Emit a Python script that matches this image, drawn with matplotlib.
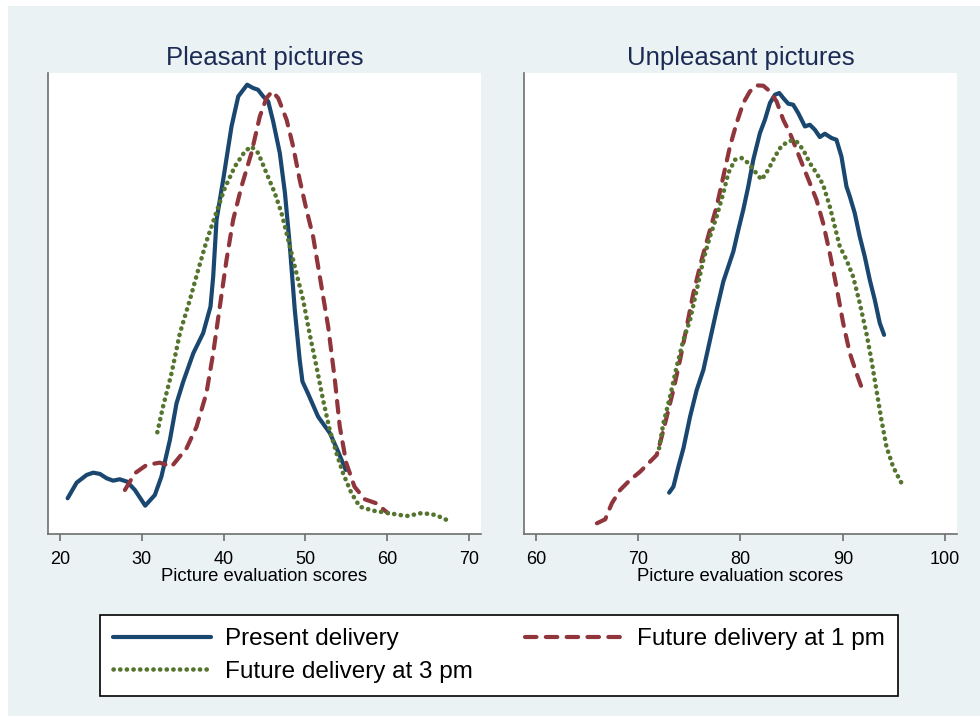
import matplotlib
matplotlib.use("Agg")
import matplotlib.pyplot as plt
from matplotlib.patches import Rectangle

plt.rcParams['font.family'] = ['Liberation Sans', 'DejaVu Sans']

# kernel density curves (arbitrary density units)
pl_present_x = [20.94, 22.04, 23.26, 24.07, 24.89, 25.7, 26.5, 27.3, 28.2, 29.16, 30.42, 31.6, 32.4, 33.44,
                34.25, 35.07, 36.3, 37.5, 38.4, 38.73, 39.14, 39.95, 40.97, 41.79, 42.88, 43.6, 44.2, 44.84,
                45.45, 46.06, 46.87, 47.5, 48.1, 48.7, 49.3, 49.64, 50.3, 51.55, 53.0, 54.0, 54.93]
pl_present_y = [3.57, 5.13, 5.9, 6.13, 6.0, 5.57, 5.33, 5.47, 5.23, 4.4, 2.83, 3.9, 5.73, 9.4,
                13.07, 15.23, 18.07, 20.07, 22.73, 25.73, 31.4, 35.4, 40.73, 43.73, 44.9, 44.57, 44.4, 43.73,
                43.23, 41.23, 38.07, 34.07, 28.73, 22.4, 17.4, 15.23, 14.07, 11.73, 10.07, 8.23, 6.4]

pl_1pm_x = [27.94, 29.16, 30.59, 32.2, 33.64, 35.47, 36.7, 37.9, 38.73, 39.54, 40.36, 41.17, 42.19, 43.4,
            44.43, 45.24, 45.94, 46.67, 47.7, 48.5, 49.3, 50.13, 50.94, 51.76, 52.78, 53.6, 54.2, 55.0,
            56.0, 57.25, 58.66, 60.1]
pl_1pm_y = [4.4, 6.07, 6.9, 7.13, 6.73, 8.57, 10.73, 14.07, 18.07, 22.73, 27.4, 31.4, 34.73, 38.07,
            41.73, 43.57, 44.23, 43.57, 41.4, 38.73, 35.4, 32.4, 29.73, 25.73, 20.73, 15.4, 10.73, 7.07,
            4.73, 3.47, 3.07, 2.07]

pl_3pm_x = [31.9, 32.6, 33.64, 34.66, 35.88, 36.9, 37.9, 38.94, 40.15, 41.38, 42.6, 43.4, 44.23, 45.24,
            46.26, 47.08, 47.9, 48.7, 49.72, 50.5, 51.35, 52.16, 52.97, 53.8, 54.6, 55.63, 56.65, 58.27,
            59.9, 61.53, 62.55, 63.97, 65.4, 66.6, 67.84]
pl_3pm_y = [10.17, 12.73, 16.07, 20.07, 23.4, 26.4, 29.23, 31.73, 34.57, 36.73, 38.23, 38.73, 38.07, 36.07,
            34.07, 32.07, 29.4, 26.73, 23.4, 20.07, 16.73, 13.4, 10.4, 8.07, 6.07, 4.07, 2.73, 2.33,
            2.13, 1.9, 1.8, 2.07, 2.0, 1.67, 1.17]

un_present_x = [73.02, 73.44, 73.93, 74.42, 75.07, 75.72, 76.37, 77.02, 77.67, 78.32, 79.3, 79.79, 80.27,
                80.76, 81.25, 81.9, 82.39, 82.88, 83.37, 83.79, 84.18, 84.67, 85.15, 85.64, 86.3, 86.78,
                87.27, 87.76, 88.25, 88.9, 89.38, 89.87, 90.36, 90.69, 91.17, 91.66, 92.15, 92.64, 93.13,
                93.62, 94.04]
un_present_y = [4.13, 4.73, 6.73, 8.57, 11.73, 14.4, 16.4, 19.4, 22.4, 25.23, 28.23, 30.4, 32.4,
                34.73, 37.4, 40.07, 41.4, 43.07, 43.9, 44.07, 43.57, 43.0, 42.9, 42.07, 40.73, 40.9,
                40.4, 39.67, 40.0, 39.57, 39.4, 37.73, 34.73, 33.73, 32.07, 29.73, 27.73, 25.4, 23.4,
                21.07, 19.9]

un_1pm_x = [65.96, 66.77, 67.42, 68.23, 69.2, 70.19, 71.0, 71.81, 72.3, 72.79, 73.44, 74.09, 74.74, 75.39,
            76.2, 77.02, 77.67, 78.32, 78.97, 79.62, 80.27, 80.92, 81.57, 82.23, 82.88, 83.53, 84.18,
            84.83, 85.48, 86.13, 86.78, 87.43, 88.08, 88.73, 89.38, 90.04, 90.69, 91.34, 91.99]
un_1pm_y = [1.07, 1.47, 3.07, 4.4, 5.4, 6.23, 7.07, 7.9, 9.73, 11.73, 14.4, 17.4, 20.73, 24.07,
            27.4, 30.4, 32.73, 35.73, 38.73, 41.07, 43.07, 44.23, 44.83, 44.8, 44.23, 43.23, 41.4,
            40.07, 38.4, 36.73, 35.07, 33.4, 31.07, 28.07, 24.73, 21.07, 18.07, 16.07, 14.23]

un_3pm_x = [72.04, 72.46, 73.11, 73.76, 74.42, 75.07, 75.72, 76.37, 77.02, 77.67, 78.32, 78.81, 79.46,
            80.11, 80.76, 81.41, 82.06, 82.71, 83.37, 84.02, 84.83, 85.48, 86.13, 86.78, 87.43, 88.08,
            88.73, 89.22, 89.71, 90.36, 91.01, 91.66, 92.31, 92.8, 93.29, 93.78, 94.27, 94.92, 95.41, 95.96]
un_3pm_y = [8.57, 11.07, 13.73, 16.73, 19.4, 21.4, 24.4, 27.4, 29.73, 31.73, 34.07, 36.07, 37.4,
            37.57, 37.07, 36.23, 35.4, 36.4, 37.73, 38.8, 39.3, 39.23, 38.4, 37.07, 36.07, 34.9,
            32.73, 30.73, 28.73, 27.4, 25.73, 23.07, 20.07, 17.4, 14.4, 11.4, 8.73, 6.73, 5.73, 4.67]

pl_ticks = [20, 30, 40, 50, 60, 70]
un_ticks = [60, 70, 80, 90, 100]
titles = ["Pleasant pictures", "Unpleasant pictures"]
labels = ["Present delivery", "Future delivery at 1 pm", "Future delivery at 3 pm"]

navy = "#1a476f"
maroon = "#90353b"
green = "#55752f"
bg = "#eaf2f3"
axcol = "#6e6e6e"

fig = plt.figure(figsize=(9.8, 7.16), dpi=100)
fig.patch.set_facecolor("white")
# light graph region, with the thin white strip at top and left
fig.patches.append(Rectangle((8 / 980, 0), 1 - 8 / 980, 1 - 6 / 716, transform=fig.transFigure,
                             facecolor=bg, edgecolor="none", zorder=-10))

ax1 = fig.add_axes([48 / 980, 1 - 534 / 716, 433 / 980, 461 / 716])
ax2 = fig.add_axes([524 / 980, 1 - 534 / 716, 433 / 980, 461 / 716])

lw = 3.0
panels = [
    (ax1, pl_present_x, pl_present_y, pl_1pm_x, pl_1pm_y, pl_3pm_x, pl_3pm_y, pl_ticks, (18.54, 71.46)),
    (ax2, un_present_x, un_present_y, un_1pm_x, un_1pm_y, un_3pm_x, un_3pm_y, un_ticks, (58.83, 101.17)),
]
handles = []
for i, (ax, x0, y0, x1, y1, x3, y3, ticks, xl) in enumerate(panels):
    h0, = ax.plot(x0, y0, color=navy, lw=lw, solid_capstyle="round", solid_joinstyle="round")
    h1, = ax.plot(x1, y1, color=maroon, lw=lw, dashes=(2.75, 2.25), dash_capstyle="round")
    h3, = ax.plot(x3, y3, color=green, lw=3.3, dashes=(0.05, 1.4), dash_capstyle="round")
    if i == 0:
        handles = [h0, h1, h3]
    ax.set_xlim(*xl)
    ax.set_ylim(0, 46.07)
    ax.set_xticks(ticks)
    ax.set_yticks([])
    ax.set_facecolor("white")
    for s in ["top", "right"]:
        ax.spines[s].set_visible(False)
    for s in ["left", "bottom"]:
        ax.spines[s].set_color(axcol)
        ax.spines[s].set_linewidth(1.2)
    ax.tick_params(axis="x", direction="out", length=5, width=1.2, color=axcol,
                   labelsize=13, labelcolor="black", pad=7.5)
    ax.set_xlabel("Picture evaluation scores", fontsize=13.3, labelpad=0)
    ax.set_title(titles[i], fontsize=18.5, color="#1c2b55", pad=6)

# column-major fill: col 1 = present, 3 pm; col 2 = 1 pm
leg = fig.legend([handles[0], handles[2], handles[1]], [labels[0], labels[2], labels[1]],
                 loc="upper left", bbox_to_anchor=(100 / 980, 1 - 697 / 716, 798 / 980, 82 / 716),
                 mode="expand", ncol=2, fontsize=17.5, frameon=True, fancybox=False, framealpha=1,
                 handlelength=4.0, handletextpad=0.6, borderpad=0.55, labelspacing=0.43,
                 borderaxespad=0)
leg.get_frame().set_edgecolor("black")
leg.get_frame().set_facecolor("white")
leg.get_frame().set_linewidth(1.2)

fig.savefig("out.png", dpi=100, facecolor=fig.get_facecolor())
